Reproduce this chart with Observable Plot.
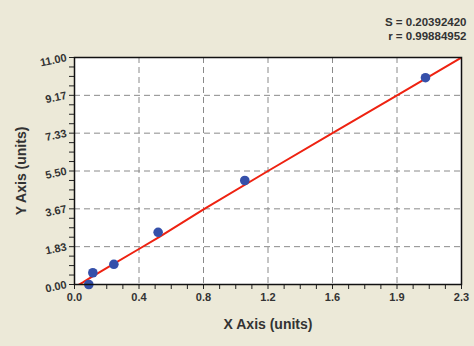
<!DOCTYPE html>
<html>
<head>
<meta charset="utf-8">
<script src="https://cdn.jsdelivr.net/npm/d3@7"></script>
<script src="https://cdn.jsdelivr.net/npm/@observablehq/plot@0.6"></script>
<style>
  html, body { margin: 0; padding: 0; background: #ece9d8; }
  #chart svg { display: block; }
</style>
</head>
<body>
<div id="chart"></div>
<script>
// Data points
const pointX = [0.085, 0.109, 0.234, 0.497, 1.012, 2.086];
const pointY = [0.00, 0.57, 0.98, 2.53, 5.04, 10.02];

// Fitted curve
const fitX = [0, 0.05, 0.1, 0.2, 0.383, 0.5, 0.767, 1.15, 1.533, 1.917, 2.3];
const fitY = [-0.13, 0.10, 0.36, 0.84, 1.72, 2.28, 3.64, 5.50, 7.33, 9.17, 11.0];

// Axis ticks
const xTickLabels = ["0.0", "0.4", "0.8", "1.2", "1.6", "1.9", "2.3"];
const yTickLabels = ["0.00", "1.83", "3.67", "5.50", "7.33", "9.17", "11.00"];
const xMax = 2.3, yMax = 11;

// Stats text
const statsLabels = ["S = 0.20392420", "r = 0.99884952"];

const points = pointX.map((x, i) => ({x, y: pointY[i]}));
const fit = fitX.map((x, i) => ({x, y: fitY[i]}));
const xMajor = xTickLabels.map((_, i) => i * xMax / 6);
const yMajor = yTickLabels.map((_, i) => i * yMax / 6);
const xMinor = d3.range(25).map(i => i * xMax / 24).filter((_, i) => i % 4 !== 0);
const yMinor = d3.range(25).map(i => i * yMax / 24).filter((_, i) => i % 4 !== 0);

const chart = Plot.plot({
  width: 474,
  height: 346,
  marginLeft: 74,
  marginRight: 13,
  marginTop: 57,
  marginBottom: 62,
  style: {background: "#ece9d8", fontFamily: "Liberation Sans, Arial, sans-serif"},
  x: {domain: [0, xMax]},
  y: {domain: [0, yMax]},
  marks: [
    Plot.frame({fill: "white", stroke: null}),
    Plot.gridX(xMajor.slice(1, -1), {stroke: "#8a8a8a", strokeOpacity: 1, strokeDasharray: "6,4"}),
    Plot.gridY(yMajor.slice(1, -1), {stroke: "#8a8a8a", strokeOpacity: 1, strokeDasharray: "6,4"}),
    Plot.axisX({ticks: xMajor, tickSize: 5, tickPadding: 4, tickFormat: (d, i) => xTickLabels[i],
      fontSize: 11, fontWeight: "bold", color: "#333", stroke: "#222",
      label: "X Axis (units)", labelAnchor: "center", labelOffset: 44, labelArrow: "none"}),
    Plot.axisX({ticks: xMinor, tickSize: 5, tickFormat: () => "", stroke: "#222", label: null}),
    Plot.axisY({ticks: yMajor, tickSize: 5, tickPadding: 3, tickFormat: (d, i) => yTickLabels[i],
      tickRotate: -12, fontSize: 11, fontWeight: "bold", color: "#333", stroke: "#222",
      label: "Y Axis (units)", labelAnchor: "center", labelOffset: 58, labelArrow: "none"}),
    Plot.axisY({ticks: yMinor, tickSize: 5, tickFormat: () => "", stroke: "#222", label: null}),
    Plot.line(fit, {x: "x", y: "y", stroke: "#ee2211", strokeWidth: 2, clip: true}),
    Plot.dot(points, {x: "x", y: "y", r: 4.8, fill: "#3550aa", stroke: null}),
    Plot.frame({stroke: "#111", strokeWidth: 1.5}),
    Plot.text([statsLabels[0]], {frameAnchor: "top-right", text: d => d, dx: 5, dy: -35,
      fontSize: 11.5, fontWeight: "bold", fill: "#333", textAnchor: "end", lineAnchor: "middle"}),
    Plot.text([statsLabels[1]], {frameAnchor: "top-right", text: d => d, dx: 5, dy: -21,
      fontSize: 11.5, fontWeight: "bold", fill: "#333", textAnchor: "end", lineAnchor: "middle"})
  ]
});
// Style axis labels
chart.querySelectorAll('[aria-label="x-axis label"] text, [aria-label="y-axis label"] text').forEach(t => {
  t.setAttribute("font-size", "14");
  t.setAttribute("font-weight", "bold");
  t.setAttribute("fill", "#333");
});
document.getElementById("chart").appendChild(chart);
</script>
</body>
</html>
